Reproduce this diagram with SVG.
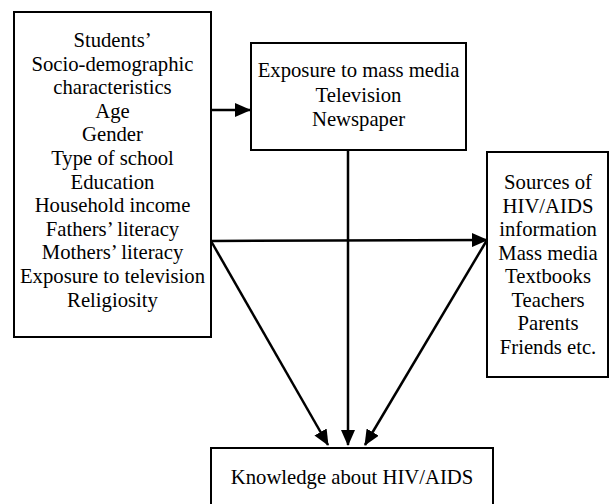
<svg xmlns="http://www.w3.org/2000/svg" width="609" height="504" viewBox="0 0 609 504">
<style>
.box{fill:#fff;stroke:#000;stroke-width:2}
text{font-family:"Liberation Serif","Times New Roman",serif;font-size:20.7px;fill:#000;text-anchor:middle}
.c{stroke:#000;stroke-width:2.5;fill:none}
</style>
<defs>
<marker id="ah" markerWidth="16" markerHeight="14" refX="15" refY="7" orient="auto" markerUnits="userSpaceOnUse">
<path d="M0,0 L16,7 L0,14 Z" fill="#000"/>
</marker>
</defs>
<rect width="609" height="504" fill="#fff"/>
<g id="socio">
<rect class="box" x="14" y="12" width="197" height="325"/>
<text x="112.5" y="47">Students’</text>
<text x="112.5" y="70.6">Socio-demographic</text>
<text x="112.5" y="94.2">characteristics</text>
<text x="112.5" y="117.8">Age</text>
<text x="112.5" y="141.4">Gender</text>
<text x="112.5" y="165">Type of school</text>
<text x="112.5" y="188.6">Education</text>
<text x="112.5" y="212.2">Household income</text>
<text x="112.5" y="235.8">Fathers’ literacy</text>
<text x="112.5" y="259.4">Mothers’ literacy</text>
<text x="112.5" y="283">Exposure to television</text>
<text x="112.5" y="306.6">Religiosity</text>
</g>
<g id="media">
<rect class="box" x="251" y="43" width="215" height="107"/>
<text x="358.5" y="77">Exposure to mass media</text>
<text x="358.5" y="101.5">Television</text>
<text x="358.5" y="126">Newspaper</text>
</g>
<g id="sources">
<rect class="box" x="487" y="152" width="121" height="225"/>
<text x="548" y="189">Sources of</text>
<text x="548" y="212.5">HIV/AIDS</text>
<text x="548" y="236">information</text>
<text x="548" y="259.5">Mass media</text>
<text x="548" y="283">Textbooks</text>
<text x="548" y="306.5">Teachers</text>
<text x="548" y="330">Parents</text>
<text x="548" y="353.5">Friends etc.</text>
</g>
<g id="knowledge">
<rect class="box" x="211" y="448" width="282" height="60"/>
<text x="352" y="484">Knowledge about HIV/AIDS</text>
</g>
<g id="connectors">
<line class="c" x1="211" y1="110" x2="250" y2="110" marker-end="url(#ah)"/>
<line class="c" x1="211" y1="241" x2="487" y2="240" marker-end="url(#ah)"/>
<line class="c" x1="211" y1="241" x2="328" y2="445" marker-end="url(#ah)"/>
<line class="c" x1="487" y1="240" x2="365" y2="445" marker-end="url(#ah)"/>
<line class="c" x1="348" y1="150" x2="348" y2="445" marker-end="url(#ah)"/>
</g>
</svg>
